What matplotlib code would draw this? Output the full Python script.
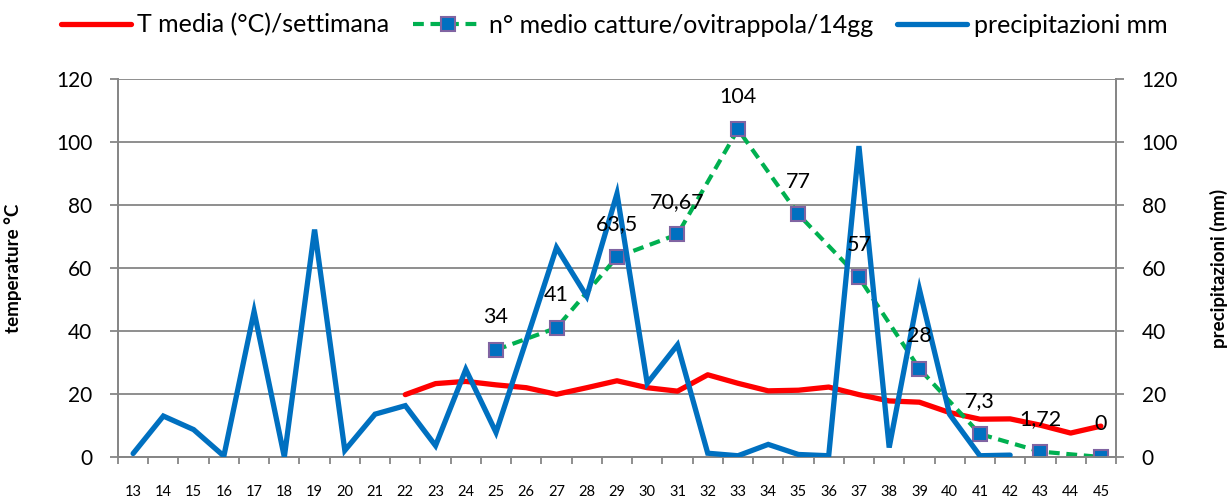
import matplotlib.pyplot as plt
from matplotlib.ticker import MultipleLocator, FixedLocator
import numpy as np

plt.rcParams['font.family'] = ['Lato', 'DejaVu Sans']

# week numbers on the x axis
weeks = list(range(13, 46))

# mean weekly temperature (starts at week 22)
temp = [None] * 9 + [19.8, 23.3, 24.0, 22.9, 22.0, 19.9, 22.0, 24.2, 22.0, 20.9,
                     26.1, 23.4, 21.0, 21.2, 22.2, 19.8, 17.8, 17.4, 14.1, 12.0,
                     12.1, 10.1, 7.6, 9.8]

# weekly rainfall mm (ends at week 42)
precip = [1.1, 13.0, 8.7, 0.3, 46.2, 0.0, 72.2, 2.1, 13.6, 16.3, 3.6, 27.8, 7.8,
          37.0, 66.5, 51.0, 83.6, 23.4, 35.6, 1.2, 0.4, 4.0, 0.8, 0.4, 98.7, 3.0,
          53.2, 13.5, 0.4, 0.6, None, None, None]

# mean catches per ovitrap every 14 days
catch_weeks = [25, 27, 29, 31, 33, 35, 37, 39, 41, 43, 45]
catches = [34, 41, 63.5, 70.67, 104, 77, 57, 28, 7.3, 1.72, 0]
catch_labels = ['34', '41', '63,5', '70,67', '104', '77', '57', '28', '7,3', '1,72', '0']

temp_arr = np.array([np.nan if v is None else v for v in temp])
precip_arr = np.array([np.nan if v is None else v for v in precip])

grey = '#868686'

fig = plt.figure(figsize=(12.28, 5.0), dpi=100)
ax = fig.add_axes([118 / 1228, 1 - 457 / 500, 998 / 1228, 378 / 500])
ax2 = ax.twinx()

l1, = ax.plot(weeks, temp_arr, color='#FF0000', lw=3.8, solid_joinstyle='round',
              solid_capstyle='round', label='T media (°C)/settimana', zorder=3)
l2, = ax.plot(catch_weeks, catches, color='#00B050', lw=3.0, linestyle=(0, (2.6, 1.6)),
              marker='s', markersize=10.5, markerfacecolor='#0070C0',
              markeredgecolor='#8064A2', markeredgewidth=1.5,
              label='n° medio catture/ovitrappola/14gg', zorder=4)
l3, = ax2.plot(weeks, precip_arr, color='#0070C0', lw=3.8, solid_joinstyle='miter',
               solid_capstyle='round', label='precipitazioni mm', zorder=3)

for w, v, t in zip(catch_weeks, catches, catch_labels):
    ax2.annotate(t, (w, v), xytext=(0, 23.5), textcoords='offset points',
                 ha='center', va='center', fontsize=15.5, color='black', zorder=6)

for a in (ax, ax2):
    a.set_xlim(12.5, 45.5)
    a.set_ylim(0, 120)
    a.yaxis.set_major_locator(MultipleLocator(20))
    for s in a.spines.values():
        s.set_color(grey)
        s.set_linewidth(1.3)
    a.spines['top'].set_visible(False)

ax.yaxis.grid(True, color=grey, lw=1.3)
ax.set_axisbelow(True)

ax.set_xticks(weeks)
ax.set_xticklabels([str(w) for w in weeks], fontsize=10.5)
ax.xaxis.set_minor_locator(FixedLocator(np.arange(12.5, 46, 1)))
ax.tick_params(axis='x', which='major', length=0, pad=20)
ax.tick_params(axis='x', which='minor', length=5, width=1.3, color=grey)
ax.tick_params(axis='y', length=6, width=1.3, color=grey, labelsize=15, pad=12.5)
ax2.tick_params(axis='y', length=6, width=1.3, color=grey, labelsize=15, pad=12.5)

ax.set_ylabel('temperature °C', fontsize=13.5, fontweight='bold')
ax.yaxis.set_label_coords(-0.096, 0.5)
ax2.set_ylabel('precipitazioni (mm)', fontsize=13.5, fontweight='bold')
ax2.yaxis.set_label_coords(1.094, 0.5)

fig.legend(handles=[l1, l2, l3], loc='center', bbox_to_anchor=(0.5, 0.95),
           ncol=3, frameon=False, fontsize=18, handlelength=2.8,
           columnspacing=0.95, handletextpad=0.25)

fig.savefig('out.png', dpi=100)
